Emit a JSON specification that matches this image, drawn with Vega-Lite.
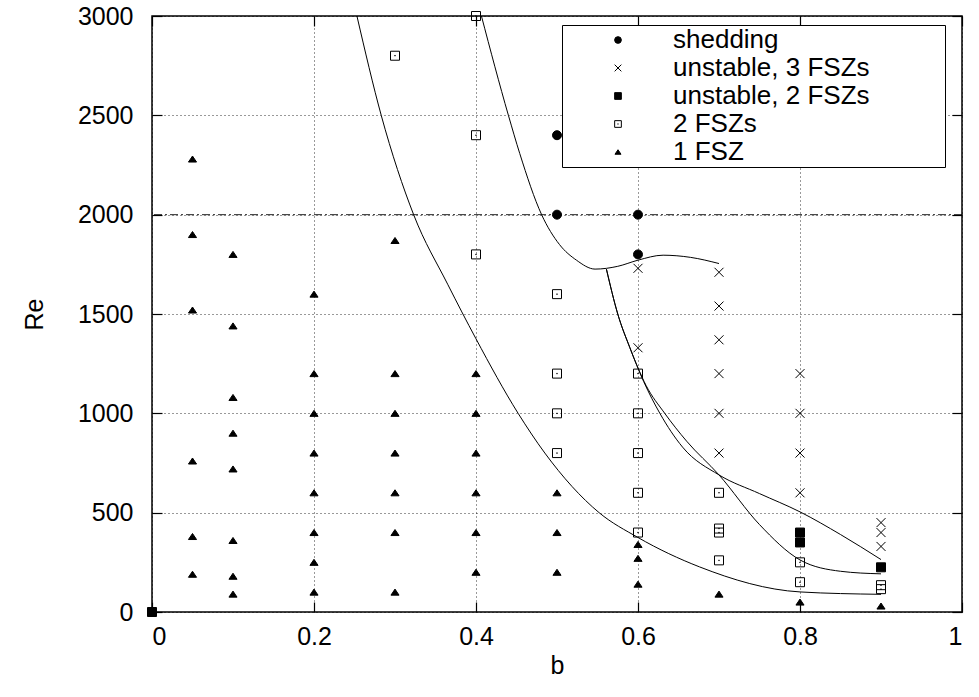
{
  "$schema": "https://vega.github.io/schema/vega-lite/v6.json",
  "width": 810,
  "height": 596,
  "autosize": {"type": "none"},
  "padding": {"left": 152, "top": 16, "right": 17, "bottom": 85},
  "background": "white",
  "config": {
    "view": {"stroke": "black", "strokeWidth": 1.5},
    "font": "Liberation Sans",
    "axis": {
      "domain": false,
      "labelFont": "Liberation Sans",
      "labelFontSize": 25,
      "labelColor": "black",
      "titleFont": "Liberation Sans",
      "titleFontSize": 25,
      "titleFontWeight": "normal",
      "titleColor": "black",
      "tickColor": "black",
      "tickSize": -10,
      "tickWidth": 1.2
    },
    "legend": {
      "orient": "none", "legendX": 410, "legendY": 9,
      "strokeColor": "black", "fillColor": "white", "padding": 2,
      "symbolOffset": 41, "labelOffset": 42, "labelFontSize": 26,
      "labelFont": "Liberation Sans", "labelColor": "black", "labelLimit": 600,
      "symbolSize": 45, "symbolStrokeWidth": 1, "rowPadding": 2,
      "titleOrient": "right", "titlePadding": 72, "titleFontSize": 2, "titleColor": "white"
    }
  },
  "datasets": {
    "curves": [
      {"curve": "A", "b": 0.253, "Re": 3000},
      {"curve": "A", "b": 0.283, "Re": 2500},
      {"curve": "A", "b": 0.323, "Re": 2000},
      {"curve": "A", "b": 0.365, "Re": 1650},
      {"curve": "A", "b": 0.4, "Re": 1375},
      {"curve": "A", "b": 0.452, "Re": 1000},
      {"curve": "A", "b": 0.485, "Re": 800},
      {"curve": "A", "b": 0.552, "Re": 500},
      {"curve": "A", "b": 0.6, "Re": 375},
      {"curve": "A", "b": 0.676, "Re": 227},
      {"curve": "A", "b": 0.8, "Re": 101},
      {"curve": "A", "b": 0.9, "Re": 89},
      {"curve": "B", "b": 0.4067, "Re": 3000},
      {"curve": "B", "b": 0.44, "Re": 2500},
      {"curve": "B", "b": 0.454, "Re": 2308},
      {"curve": "B", "b": 0.481, "Re": 2000},
      {"curve": "B", "b": 0.503, "Re": 1850},
      {"curve": "B", "b": 0.524, "Re": 1771},
      {"curve": "B", "b": 0.547, "Re": 1726},
      {"curve": "B", "b": 0.575, "Re": 1740},
      {"curve": "B", "b": 0.6, "Re": 1771},
      {"curve": "B", "b": 0.631, "Re": 1796},
      {"curve": "B", "b": 0.665, "Re": 1785},
      {"curve": "B", "b": 0.7, "Re": 1754},
      {"curve": "U", "b": 0.561, "Re": 1726},
      {"curve": "U", "b": 0.575, "Re": 1500},
      {"curve": "U", "b": 0.59, "Re": 1330},
      {"curve": "U", "b": 0.607, "Re": 1160},
      {"curve": "U", "b": 0.627, "Re": 1000},
      {"curve": "U", "b": 0.655, "Re": 830},
      {"curve": "U", "b": 0.7, "Re": 690},
      {"curve": "U", "b": 0.75, "Re": 596},
      {"curve": "U", "b": 0.8, "Re": 504},
      {"curve": "U", "b": 0.85, "Re": 390},
      {"curve": "U", "b": 0.9, "Re": 264},
      {"curve": "L", "b": 0.561, "Re": 1726},
      {"curve": "L", "b": 0.575, "Re": 1500},
      {"curve": "L", "b": 0.59, "Re": 1330},
      {"curve": "L", "b": 0.61, "Re": 1140},
      {"curve": "L", "b": 0.633, "Re": 1000},
      {"curve": "L", "b": 0.66, "Re": 860},
      {"curve": "L", "b": 0.7, "Re": 690},
      {"curve": "L", "b": 0.75, "Re": 440},
      {"curve": "L", "b": 0.8, "Re": 262},
      {"curve": "L", "b": 0.85, "Re": 205},
      {"curve": "L", "b": 0.9, "Re": 192}
    ],
    "points": [
      {"s": "shedding", "b": 0.5, "Re": 2400},
      {"s": "shedding", "b": 0.5, "Re": 2000},
      {"s": "shedding", "b": 0.6, "Re": 2000},
      {"s": "shedding", "b": 0.6, "Re": 1800},
      {"s": "unstable, 3 FSZs", "b": 0.6, "Re": 1730},
      {"s": "unstable, 3 FSZs", "b": 0.6, "Re": 1330},
      {"s": "unstable, 3 FSZs", "b": 0.7, "Re": 1710},
      {"s": "unstable, 3 FSZs", "b": 0.7, "Re": 1540},
      {"s": "unstable, 3 FSZs", "b": 0.7, "Re": 1370},
      {"s": "unstable, 3 FSZs", "b": 0.7, "Re": 1200},
      {"s": "unstable, 3 FSZs", "b": 0.7, "Re": 1000},
      {"s": "unstable, 3 FSZs", "b": 0.7, "Re": 800},
      {"s": "unstable, 3 FSZs", "b": 0.8, "Re": 1200},
      {"s": "unstable, 3 FSZs", "b": 0.8, "Re": 1000},
      {"s": "unstable, 3 FSZs", "b": 0.8, "Re": 800},
      {"s": "unstable, 3 FSZs", "b": 0.8, "Re": 600},
      {"s": "unstable, 3 FSZs", "b": 0.9, "Re": 450},
      {"s": "unstable, 3 FSZs", "b": 0.9, "Re": 400},
      {"s": "unstable, 3 FSZs", "b": 0.9, "Re": 330},
      {"s": "unstable, 2 FSZs", "b": 0, "Re": 0},
      {"s": "unstable, 2 FSZs", "b": 0.8, "Re": 400},
      {"s": "unstable, 2 FSZs", "b": 0.8, "Re": 350},
      {"s": "unstable, 2 FSZs", "b": 0.9, "Re": 225},
      {"s": "2 FSZs", "b": 0.3, "Re": 2800},
      {"s": "2 FSZs", "b": 0.4, "Re": 3000},
      {"s": "2 FSZs", "b": 0.4, "Re": 2400},
      {"s": "2 FSZs", "b": 0.4, "Re": 1800},
      {"s": "2 FSZs", "b": 0.5, "Re": 1600},
      {"s": "2 FSZs", "b": 0.5, "Re": 1200},
      {"s": "2 FSZs", "b": 0.5, "Re": 1000},
      {"s": "2 FSZs", "b": 0.5, "Re": 800},
      {"s": "2 FSZs", "b": 0.6, "Re": 1200},
      {"s": "2 FSZs", "b": 0.6, "Re": 1000},
      {"s": "2 FSZs", "b": 0.6, "Re": 800},
      {"s": "2 FSZs", "b": 0.6, "Re": 600},
      {"s": "2 FSZs", "b": 0.6, "Re": 400},
      {"s": "2 FSZs", "b": 0.7, "Re": 600},
      {"s": "2 FSZs", "b": 0.7, "Re": 420},
      {"s": "2 FSZs", "b": 0.7, "Re": 400},
      {"s": "2 FSZs", "b": 0.7, "Re": 260},
      {"s": "2 FSZs", "b": 0.8, "Re": 250},
      {"s": "2 FSZs", "b": 0.8, "Re": 150},
      {"s": "2 FSZs", "b": 0.9, "Re": 135},
      {"s": "2 FSZs", "b": 0.9, "Re": 115},
      {"s": "1 FSZ", "b": 0.05, "Re": 190},
      {"s": "1 FSZ", "b": 0.05, "Re": 380},
      {"s": "1 FSZ", "b": 0.05, "Re": 760},
      {"s": "1 FSZ", "b": 0.05, "Re": 1520},
      {"s": "1 FSZ", "b": 0.05, "Re": 1900},
      {"s": "1 FSZ", "b": 0.05, "Re": 2280},
      {"s": "1 FSZ", "b": 0.1, "Re": 90},
      {"s": "1 FSZ", "b": 0.1, "Re": 180},
      {"s": "1 FSZ", "b": 0.1, "Re": 360},
      {"s": "1 FSZ", "b": 0.1, "Re": 720},
      {"s": "1 FSZ", "b": 0.1, "Re": 900},
      {"s": "1 FSZ", "b": 0.1, "Re": 1080},
      {"s": "1 FSZ", "b": 0.1, "Re": 1440},
      {"s": "1 FSZ", "b": 0.1, "Re": 1800},
      {"s": "1 FSZ", "b": 0.2, "Re": 100},
      {"s": "1 FSZ", "b": 0.2, "Re": 250},
      {"s": "1 FSZ", "b": 0.2, "Re": 400},
      {"s": "1 FSZ", "b": 0.2, "Re": 600},
      {"s": "1 FSZ", "b": 0.2, "Re": 800},
      {"s": "1 FSZ", "b": 0.2, "Re": 1000},
      {"s": "1 FSZ", "b": 0.2, "Re": 1200},
      {"s": "1 FSZ", "b": 0.2, "Re": 1600},
      {"s": "1 FSZ", "b": 0.3, "Re": 100},
      {"s": "1 FSZ", "b": 0.3, "Re": 400},
      {"s": "1 FSZ", "b": 0.3, "Re": 600},
      {"s": "1 FSZ", "b": 0.3, "Re": 800},
      {"s": "1 FSZ", "b": 0.3, "Re": 1000},
      {"s": "1 FSZ", "b": 0.3, "Re": 1200},
      {"s": "1 FSZ", "b": 0.3, "Re": 1870},
      {"s": "1 FSZ", "b": 0.4, "Re": 200},
      {"s": "1 FSZ", "b": 0.4, "Re": 400},
      {"s": "1 FSZ", "b": 0.4, "Re": 600},
      {"s": "1 FSZ", "b": 0.4, "Re": 800},
      {"s": "1 FSZ", "b": 0.4, "Re": 1000},
      {"s": "1 FSZ", "b": 0.4, "Re": 1200},
      {"s": "1 FSZ", "b": 0.5, "Re": 200},
      {"s": "1 FSZ", "b": 0.5, "Re": 400},
      {"s": "1 FSZ", "b": 0.5, "Re": 600},
      {"s": "1 FSZ", "b": 0.6, "Re": 140},
      {"s": "1 FSZ", "b": 0.6, "Re": 270},
      {"s": "1 FSZ", "b": 0.6, "Re": 340},
      {"s": "1 FSZ", "b": 0.7, "Re": 90},
      {"s": "1 FSZ", "b": 0.8, "Re": 50},
      {"s": "1 FSZ", "b": 0.9, "Re": 30}
    ]
  },
  "layer": [
    {
      "data": {"name": "curves"},
      "mark": {"type": "line", "interpolate": "monotone", "color": "black", "strokeWidth": 1, "clip": true},
      "encoding": {
        "x": {
          "field": "b", "type": "quantitative",
          "scale": {"domain": [0, 1], "nice": false, "zero": false},
          "axis": {"orient": "bottom", "values": [0, 0.2, 0.4, 0.6, 0.8, 1], "format": ".1~f", "grid": true, "gridDash": [1, 3], "gridColor": "black", "gridOpacity": 0.8, "title": "b", "labelPadding": 22, "titlePadding": 4}
        },
        "y": {
          "field": "Re", "type": "quantitative",
          "scale": {"domain": [0, 3000], "nice": false, "zero": false},
          "axis": {"orient": "left", "values": [0, 500, 1000, 1500, 2000, 2500, 3000], "format": "d", "grid": true, "gridDash": [1, 3], "gridColor": "black", "gridOpacity": 0.8, "title": "Re", "labelPadding": 29, "titlePadding": 30}
        },
        "detail": {"field": "curve"}
      }
    },
    {
      "data": {"values": [{"Re": 2000}]},
      "mark": {"type": "rule", "color": "black", "strokeWidth": 1, "strokeDash": [8, 3, 2, 3], "opacity": 0.85},
      "encoding": {
        "y": {"field": "Re", "type": "quantitative", "axis": null}
      }
    },
    {
      "data": {"name": "points"},
      "mark": {"type": "point", "size": 81, "strokeWidth": 1, "opacity": 1, "filled": false},
      "encoding": {
        "x": {
          "field": "b", "type": "quantitative",
          "axis": {"orient": "top", "values": [0, 0.2, 0.4, 0.6, 0.8, 1], "labels": false, "grid": false, "title": null}
        },
        "y": {
          "field": "Re", "type": "quantitative",
          "axis": {"orient": "right", "values": [0, 500, 1000, 1500, 2000, 2500, 3000], "labels": false, "grid": false, "title": null}
        },
        "shape": {
          "field": "s", "type": "nominal",
          "scale": {
            "domain": ["shedding", "unstable, 3 FSZs", "unstable, 2 FSZs", "2 FSZs", "1 FSZ"],
            "range": ["circle", "M-1,-1L1,1M-1,1L1,-1", "square", "M-1,-1H1V1H-1Z M-0.06,-0.06H0.06V0.06H-0.06Z", "M-0.9,0.67L0,-0.67L0.9,0.67Z"]
          },
          "legend": {"title": "."}
        },
        "fill": {
          "field": "s", "type": "nominal",
          "scale": {
            "domain": ["shedding", "unstable, 3 FSZs", "unstable, 2 FSZs", "2 FSZs", "1 FSZ"],
            "range": ["black", "transparent", "black", "transparent", "black"]
          },
          "legend": {"title": "."}
        },
        "stroke": {
          "field": "s", "type": "nominal",
          "scale": {
            "domain": ["shedding", "unstable, 3 FSZs", "unstable, 2 FSZs", "2 FSZs", "1 FSZ"],
            "range": ["black", "black", "black", "black", "black"]
          },
          "legend": {"title": "."}
        }
      }
    }
  ],
  "resolve": {"axis": {"x": "independent", "y": "independent"}}
}
